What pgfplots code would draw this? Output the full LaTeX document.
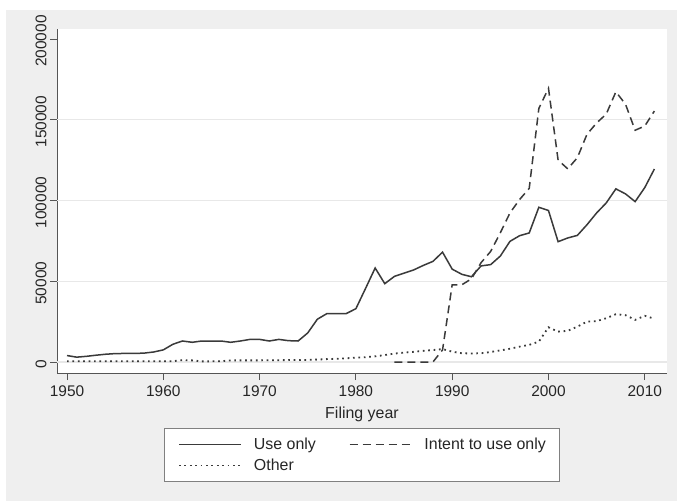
\documentclass[border=0pt]{standalone}
\usepackage{fontspec}
\setmainfont{Liberation Sans}
\usepackage{pgfplots}
\pgfplotsset{compat=1.18}
\definecolor{bgGrey}{RGB}{239,239,239}
\definecolor{lineGrey}{RGB}{58,58,58}
\definecolor{gridGrey}{RGB}{232,232,232}
\definecolor{axGrey}{RGB}{85,85,85}
\begin{document}
\begin{tikzpicture}
\path[use as bounding box] (0bp,0bp) rectangle (677bp,501bp);
\fill[white] (0bp,0bp) rectangle (677bp,501bp);
\fill[bgGrey] (6bp,0bp) rectangle (677bp,491bp);
\begin{axis}[
  at={(57bp,128bp)}, anchor=south west,
  scale only axis, width=610bp, height=344bp,
  xmin=1948.96, xmax=2012.31, ymin=-6811, ymax=206190,
  axis background/.style={fill=white},
  axis lines=left,
  axis line style={-, draw=axGrey, line width=1bp},
  xtick={1950,1960,...,2010},
  ytick={0,50000,100000,150000,200000},
  tick align=outside, major tick length=7bp,
  tick style={draw=axGrey, line width=0.8bp},
  /pgf/number format/fixed,
  /pgf/number format/precision=0,
  /pgf/number format/1000 sep={},
  /pgf/number format/assume math mode=true,
  scaled y ticks=false,
  scaled x ticks=false,
  ticklabel style={font=\fontsize{15.5}{17}\selectfont, text=black!85},
  xticklabel style={yshift=-2bp},
  yticklabel style={rotate=90, xshift=-2bp},
  extra y ticks={0,50000,100000,150000},
  extra y tick labels={},
  extra y tick style={grid=major, major grid style={draw=gridGrey, line width=1.3bp}, major tick length=0pt},
  xlabel={Filing year},
  xlabel style={font=\fontsize{16}{18}\selectfont, text=black!85, yshift=-4bp},
  legend columns=2,
  legend cell align=left,
  legend image code/.code={\draw[#1] (0bp,0bp) -- (62bp,0bp);},
  legend style={at={(0.5,-0.160)}, anchor=north, draw=black!50, fill=white,
    line width=0.8bp, font=\fontsize{16}{18}\selectfont, text=black!85,
    nodes={inner xsep=0bp, inner ysep=2bp},
    /tikz/every odd column/.append style={column sep=12bp},
    /tikz/every even column/.append style={column sep=33bp},
    inner xsep=14bp, inner ysep=7.5bp, row sep=4bp},
]
\addplot[draw=lineGrey, line width=1.5bp] coordinates {
(1950,4000) (1951,3000) (1952,3500) (1953,4200) (1954,4800) (1955,5200)
(1956,5300) (1957,5300) (1958,5500) (1959,6200) (1960,7500) (1961,11000)
(1962,13000) (1963,12200) (1964,13000) (1965,13000) (1966,13000) (1967,12200)
(1968,13000) (1969,14000) (1970,14000) (1971,13000) (1972,14000) (1973,13200)
(1974,13000) (1975,18000) (1976,26500) (1977,30000) (1978,30000) (1979,30000)
(1980,33000) (1981,45500) (1982,58200) (1983,48500) (1984,53000) (1985,55000)
(1986,57000) (1987,59800) (1988,62300) (1989,68000) (1990,57500) (1991,54300)
(1992,52800) (1993,59500) (1994,60300) (1995,65600) (1996,74700) (1997,78200)
(1998,79900) (1999,95800) (2000,93800) (2001,74500) (2002,76800) (2003,78400)
(2004,85000) (2005,92300) (2006,98500) (2007,107200) (2008,104100) (2009,99300)
(2010,108000) (2011,119500)
};
\addlegendentry{Use only}
\addplot[draw=lineGrey, line width=1.5bp, dash pattern=on 8bp off 5bp] coordinates {
(1984,0) (1985,0) (1986,0) (1987,0) (1988,0) (1989,7500) (1990,47800)
(1991,47800) (1992,51500) (1993,61500) (1994,68500) (1995,80000) (1996,92300)
(1997,100600) (1998,107500) (1999,157000) (2000,169500) (2001,125000)
(2002,119600) (2003,126500) (2004,141000) (2005,148000) (2006,153500)
(2007,167300) (2008,159600) (2009,143500) (2010,146100) (2011,155400)
};
\addlegendentry{Intent to use only}
\addplot[draw=lineGrey, line width=1.8bp, dash pattern=on 1.7bp off 3.7bp] coordinates {
(1950,500) (1951,500) (1952,500) (1953,500) (1954,500) (1955,500) (1956,500)
(1957,500) (1958,500) (1959,500) (1960,500) (1961,500) (1962,1200) (1963,1000)
(1964,400) (1965,400) (1966,500) (1967,1000) (1968,1000) (1969,1000) (1970,1000)
(1971,1100) (1972,1100) (1973,1200) (1974,1200) (1975,1300) (1976,1500)
(1977,1800) (1978,2000) (1979,2300) (1980,2700) (1981,3000) (1982,3500)
(1983,4300) (1984,5200) (1985,5800) (1986,6300) (1987,6900) (1988,7400)
(1989,8000) (1990,6400) (1991,5400) (1992,5300) (1993,5400) (1994,6200)
(1995,7200) (1996,8200) (1997,9500) (1998,10600) (1999,12600) (2000,21500)
(2001,18800) (2002,19300) (2003,21900) (2004,25000) (2005,25300) (2006,27100)
(2007,29600) (2008,29000) (2009,26100) (2010,28600) (2011,26800)
};
\addlegendentry{Other}
\end{axis}
\end{tikzpicture}
\end{document}
